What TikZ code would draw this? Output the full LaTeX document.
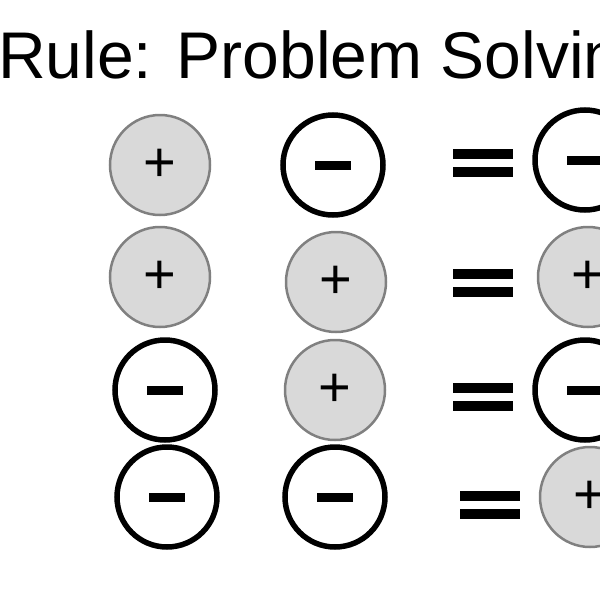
\documentclass[tikz,border=0pt]{standalone}
\usepackage{fontspec}
\setmainfont{Liberation Sans}
\usetikzlibrary{calc}
\begin{document}
\begin{tikzpicture}[x=1pt,y=-1pt,
  poscirc/.style={circle,draw=black!50,fill=black!15,line width=2.5pt,minimum size=100pt,inner sep=0pt,font=\fontsize{56}{56}\selectfont},
  negcirc/.style={circle,draw=black,fill=white,line width=5.5pt,minimum size=100pt,inner sep=0pt}]
\useasboundingbox (0,0) rectangle (600,600);
\clip (0,0) rectangle (600,600);
\node[anchor=base west,inner sep=0pt,font=\fontsize{66}{66}\selectfont] (title) at (-2,78) {Rule: Problem Solving};
\newcommand\minusbar[1]{\fill ($(#1)+(-18,-4.5)$) rectangle ($(#1)+(18,4.5)$);}
\newcommand\eqsign[1]{\fill ($(#1)+(-30,-14)$) rectangle ($(#1)+(30,-4)$); \fill ($(#1)+(-30,4)$) rectangle ($(#1)+(30,14)$);}
% row 1
\node[poscirc] (a1) at (160,165) {+};
\node[negcirc] (b1) at (333,165) {};
\coordinate (e1) at (483,163);
\node[negcirc] (c1) at (585,160) {};
% row 2
\node[poscirc] (a2) at (160,277) {+};
\node[poscirc] (b2) at (336,282) {+};
\coordinate (e2) at (483,283);
\node[poscirc] (c2) at (588,277) {+};
% row 3
\node[negcirc] (a3) at (165,390) {};
\node[poscirc] (b3) at (335,390) {+};
\coordinate (e3) at (483,397);
\node[negcirc] (c3) at (585,390) {};
% row 4
\node[negcirc] (a4) at (167,497) {};
\node[negcirc] (b4) at (335,497) {};
\coordinate (e4) at (490,505);
\node[poscirc] (c4) at (590,497) {+};
\minusbar{b1}\minusbar{c1}\minusbar{a3}\minusbar{c3}\minusbar{a4}\minusbar{b4}
\eqsign{e1}\eqsign{e2}\eqsign{e3}\eqsign{e4}
\end{tikzpicture}
\end{document}
